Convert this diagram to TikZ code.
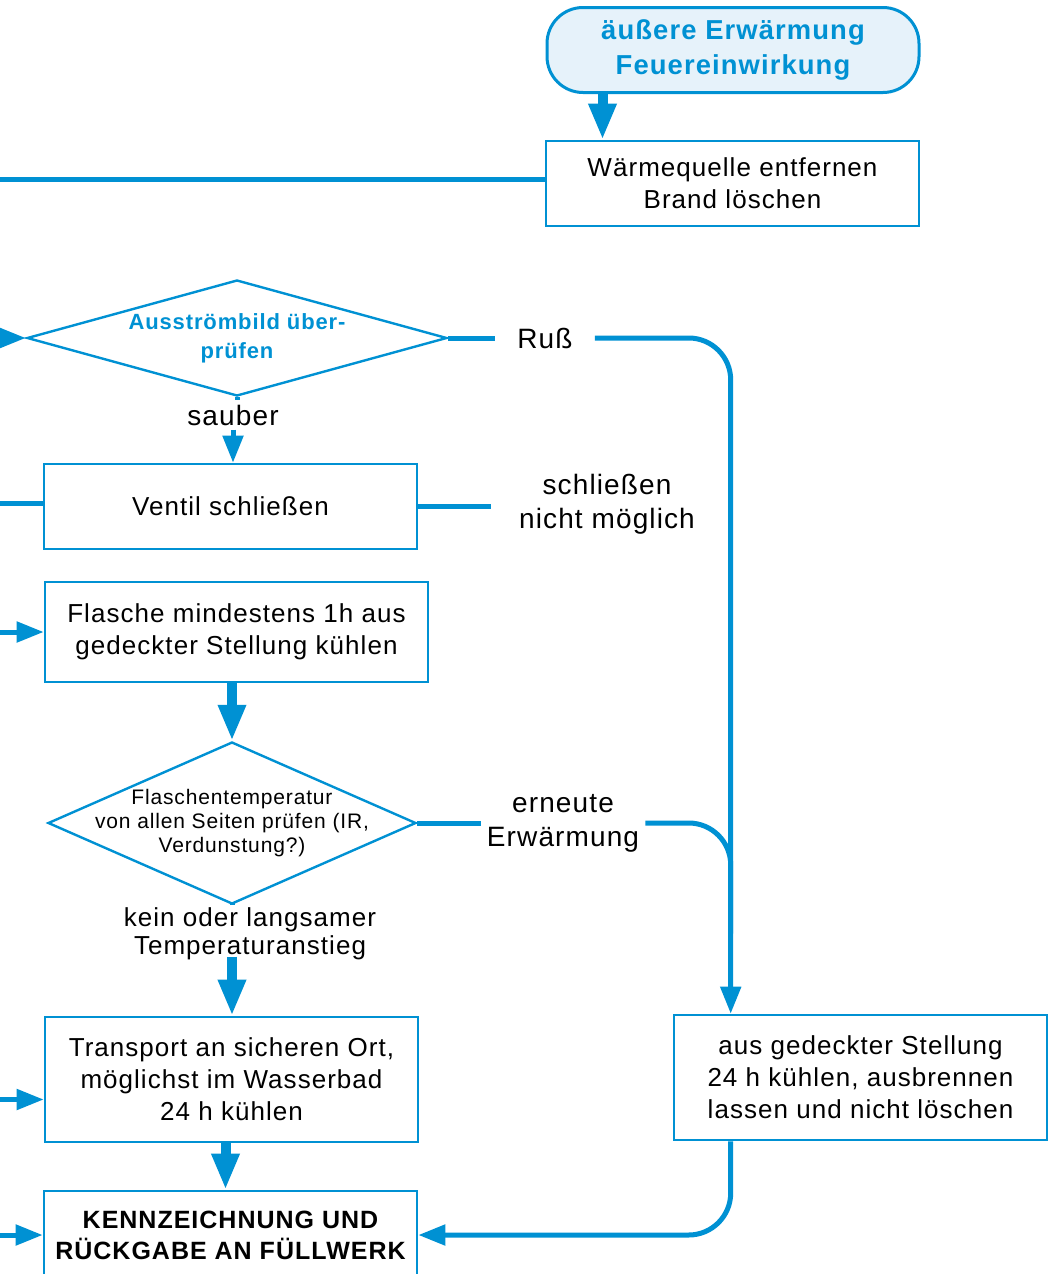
\documentclass[tikz,border=0pt]{standalone}
\usepackage{fontspec}
\setmainfont{Liberation Sans}[LetterSpace=4]
\usepackage{tikz}
\usetikzlibrary{arrows.meta}
\usetikzlibrary{shapes.geometric}
\definecolor{fblue}{RGB}{0,145,211}
\definecolor{flight}{RGB}{230,242,250}

\begin{document}
\begin{tikzpicture}[x=0.5pt,y=-0.5pt]
    \tikzstyle{box} = [draw=fblue, line width=1.3pt, minimum width=186.5pt, minimum height=42.5pt, align=center, font=\fontsize{13}{16}\selectfont]
    \tikzstyle{dec} = [diamond, draw=fblue, line width=1.2pt, align=center, inner sep=-8pt]
    \tikzstyle{lbl} = [align=center, inner xsep=3pt, inner ysep=2pt, font=\fontsize{14}{17}\selectfont]
    \tikzstyle{c} = [draw=fblue, line width=2.5pt, rounded corners=21pt]
    \tikzstyle{e} = [c, -{Triangle[width=10pt,length=13.5pt]}]
    \tikzstyle{ee} = [draw=fblue, line width=5pt, -{Triangle[width=13pt,length=18pt]}]
    \useasboundingbox (0,0) rectangle (1051,1274);
    \coordinate (links) at (-10,0);

    \node (start) [draw=fblue, fill=flight, line width=1.5pt, rounded corners=18pt, minimum width=186pt, minimum height=42.5pt, align=center, text=fblue, font=\bfseries\fontsize{13.7}{17.5}\selectfont] at (733,50) {äußere Erwärmung\\Feuereinwirkung};
    \node (quelle) [box] at (732.5,183.5) {Wärmequelle entfernen\\Brand löschen};
    \node (check1) [dec, aspect=3.6, minimum width=210pt, minimum height=58pt, text=fblue, font=\bfseries\fontsize{11}{14.5}\selectfont] at (237,338) {Ausströmbild über-\\prüfen};
    \node (ventil) [box] at (230.5,506.5) {Ventil schließen};
    \node (flasche) [box, minimum width=191.5pt, minimum height=50pt] at (236.5,632) {Flasche mindestens 1h aus\\gedeckter Stellung kühlen};
    \node (check2) [dec, aspect=2.27, minimum width=184pt, minimum height=81pt, font=\fontsize{10.5}{12}\selectfont] at (232,823) {Flaschentemperatur\\von allen Seiten prüfen (IR,\\Verdunstung?)};
    \node (transport) [box, minimum height=62.5pt] at (231.5,1079.5) {Transport an sicheren Ort,\\möglichst im Wasserbad\\24 h kühlen};
    \node (kenn) [box, minimum height=44pt, font=\bfseries\fontsize{12.5}{15.5}\selectfont] at (230.5,1235) {KENNZEICHNUNG UND\\RÜCKGABE AN FÜLLWERK};
    \node (aus) [box, minimum height=62.5pt] at (860.5,1077.5) {aus gedeckter Stellung\\24 h kühlen, ausbrennen\\lassen und nicht löschen};

    \node (russ) [lbl, inner xsep=11pt] at (545,338) {Ruß};
    \node (sauber) [lbl] at (233,415) {sauber};
    \node (nicht) [lbl, inner xsep=14pt] at (607,504) {schließen\\nicht möglich};
    \node (erneut) [lbl] at (563,823) {erneute\\Erwärmung};
    \node (kein) [lbl, font=\fontsize{13}{14}\selectfont] at (250,934) {kein oder langsamer\\Temperaturanstieg};

    \draw [ee] ([xshift=28.5pt]start.south west) -- ([xshift=28.5pt]start.south west |- quelle.north);
    \draw [c] ([yshift=2pt]quelle.west) -- ([yshift=2pt]quelle.west -| links);
    \draw [e] (check1.west -| links) -- (check1.west);
    \draw [c] (check1.east) -- (check1.east -| russ.west);
    \draw [e] (russ.east) -| ([xshift=29pt]aus.north west);
    \draw [c] (check1.south) -- (check1.south |- sauber.north);
    \draw [e] (sauber.south) -- (sauber.south |- ventil.north);
    \draw [c] ([yshift=1.5pt]ventil.west) -- ([yshift=1.5pt]ventil.west -| links);
    \draw [c] (ventil.east) -- (ventil.east -| nicht.west);
    \draw [e] (flasche.west -| links) -- (flasche.west);
    \draw [ee] (check2.north |- flasche.south) -- (check2.north);
    \draw [c] (check2.east) -- (erneut.west);
    \draw [c] (erneut.east) -| ([xshift=29pt,yshift=40pt]aus.north west);
    \draw [c] (check2.south) -- (check2.south |- kein.north);
    \draw [ee] ([yshift=4pt]check2.south |- kein.south) -- (check2.south |- transport.north);
    \draw [e] ([yshift=-10pt]transport.west -| links) -- ([yshift=-10pt]transport.west);
    \draw [ee] ([xshift=-3pt]transport.south) -- ([xshift=-3pt]transport.south |- kenn.north);
    \draw [e] (kenn.west -| links) -- (kenn.west);
    \draw [e] ([xshift=29pt]aus.south west) |- (kenn.east);
\end{tikzpicture}
\end{document}
